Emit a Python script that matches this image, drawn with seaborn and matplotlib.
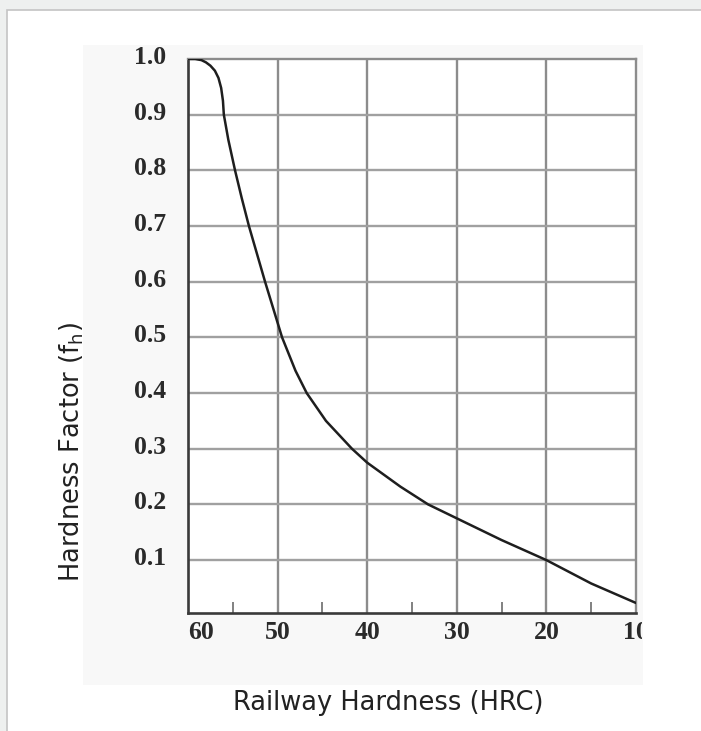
import matplotlib
matplotlib.use("Agg")
import matplotlib.pyplot as plt
import matplotlib.transforms as mtransforms
from matplotlib.patches import Rectangle
import seaborn as sns
import pandas as pd

# ---- data ----
hardness_hrc = [60, 59.2, 58.5, 58, 57.5, 57, 56.6, 56.3, 56.1, 56.0, 55.5, 54.75, 54, 53.2,
                51.4, 49.5, 48, 46.75, 44.6, 41.7, 40, 36.3, 33.2, 30, 25, 20, 15, 10]
hardness_factor = [1.0, 1.0, 0.998, 0.994, 0.988, 0.979, 0.966, 0.948, 0.925, 0.90, 0.855, 0.80,
                   0.75, 0.70, 0.60, 0.50, 0.44, 0.40, 0.35, 0.30, 0.275, 0.232, 0.20,
                   0.175, 0.136, 0.10, 0.058, 0.023]
x_ticks = [60, 50, 40, 30, 20, 10]
x_minor_ticks = [55, 45, 35, 25, 15]
y_ticks = [0.1, 0.2, 0.3, 0.4, 0.5, 0.6, 0.7, 0.8, 0.9, 1.0]
y_tick_labels = ["0.1", "0.2", "0.3", "0.4", "0.5", "0.6", "0.7", "0.8", "0.9", "1.0"]
x_label = "Railway Hardness (HRC)"
y_label = r"Hardness Factor (f$\mathregular{_h}$)"

sns.set_style("white")
plt.rcParams['font.family'] = ['DejaVu Sans']

W, H = 701, 731
fig = plt.figure(figsize=(W / 100, H / 100), dpi=100)
fig.patch.set_facecolor("#eef0ef")

# white card with border
fig.patches.append(Rectangle((7 / W, -0.01), 1.0, 1 - 10 / H + 0.01, transform=fig.transFigure,
                             facecolor="white", edgecolor="#c4c4c4", lw=1.2, zorder=-3))
# faint image backdrop
fig.patches.append(Rectangle((83 / W, 1 - 685 / H), (643 - 83) / W, (685 - 45) / H,
                             transform=fig.transFigure, facecolor="#f8f8f8",
                             edgecolor="none", zorder=-2))

ax = fig.add_axes([188 / W, 1 - 613 / H, (636 - 188) / W, (613 - 59) / H])
ax.set_facecolor("white")

df = pd.DataFrame({"hrc": hardness_hrc, "fh": hardness_factor})
sns.lineplot(data=df, x="hrc", y="fh", ax=ax, color="#1e1e1e", lw=1.8, zorder=5)

ax.set_xlim(60, 10)
ax.set_ylim(0.005, 1.0)

# grid
for xv in x_ticks[1:-1]:
    ax.axvline(xv, color="#8c8c8c", lw=1.7, zorder=2)
for yv in y_ticks[:-1]:
    ax.axhline(yv, color="#a0a0a0", lw=1.7, zorder=2)

for side in ["top", "right"]:
    ax.spines[side].set_color("#8c8c8c")
    ax.spines[side].set_linewidth(1.7)
for side in ["left", "bottom"]:
    ax.spines[side].set_color("#3a3a3a")
    ax.spines[side].set_linewidth(1.9)

tick_font = dict(family="Liberation Serif", weight="bold", size=18.5)

ax.set_xticks(x_ticks)
ax.set_xticklabels([str(v) for v in x_ticks], fontdict=tick_font, color="#2a2a2a")
ax.set_xticks(x_minor_ticks, minor=True)
ax.tick_params(axis="x", which="both", bottom=True)
ax.tick_params(axis="x", which="major", length=0, pad=6)
ax.tick_params(axis="x", which="minor", direction="in", length=8, width=1.3, color="#777777")

ax.set_yticks(y_ticks)
ax.set_yticklabels(y_tick_labels, fontdict=tick_font, color="#2a2a2a")
ax.tick_params(axis="y", which="both", length=0, pad=16)

# first x label sits to the right of its tick, last one is clipped by the image edge
xl = ax.get_xticklabels()
xl[0].set_ha("left")
clip_rect = mtransforms.TransformedBbox(
    mtransforms.Bbox.from_extents(0, 0, 642 / W, 1), fig.transFigure)
xl[-1].set_clip_box(clip_rect)
xl[-1].set_clip_on(True)

# y tick labels sit slightly above the gridlines
off = mtransforms.ScaledTranslation(0, 4 / 100, fig.dpi_scale_trans)
for lab in ax.get_yticklabels():
    lab.set_transform(lab.get_transform() + off)

ax.set_xlabel("")
ax.set_ylabel("")
fig.text(388 / W, 1 - 703 / H, x_label, ha="center", va="center",
         fontsize=18.5, color="#222222")
fig.text(72 / W, 1 - 452 / H, y_label, ha="center", va="center", rotation=90,
         fontsize=18.5, color="#222222")

fig.savefig("out.png", dpi=100, facecolor=fig.get_facecolor())
